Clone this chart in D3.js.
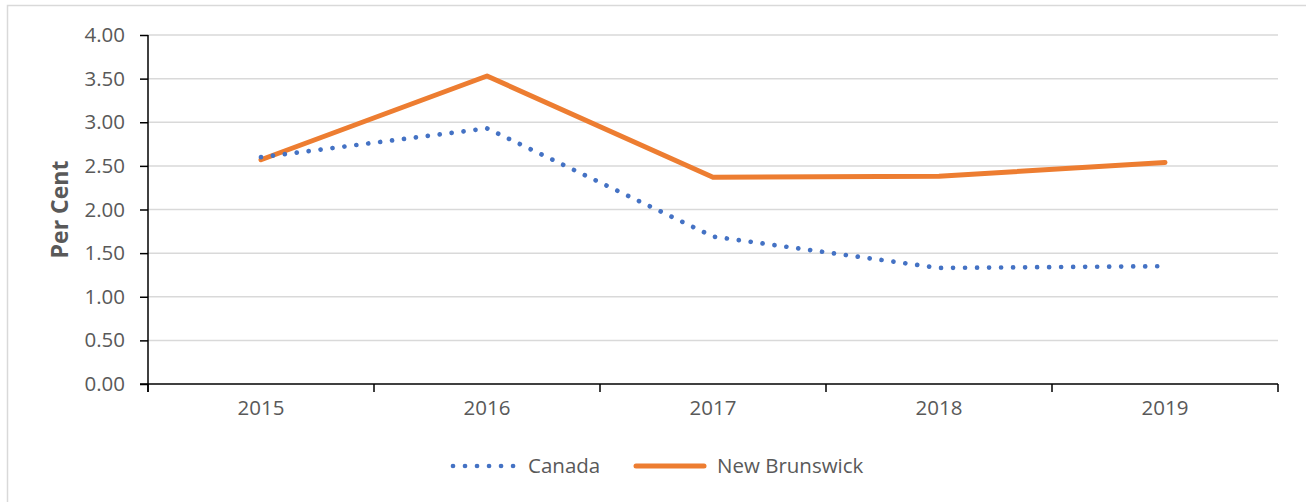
<!DOCTYPE html>
<html>
<head>
<meta charset="utf-8">
<script src="https://cdn.jsdelivr.net/npm/d3@7"></script>
<style>
  html, body { margin: 0; padding: 0; background: #fff; }
  svg { display: block; }
  text { font-family: "Open Sans", "Noto Sans", sans-serif; fill: #595959; }
</style>
</head>
<body>
<svg id="chart" width="1306" height="502"></svg>
<script>
// Annual rates, per cent
const years = ["2015", "2016", "2017", "2018", "2019"];
const canada = [2.60, 2.93, 1.69, 1.33, 1.35];
const newBrunswick = [2.57, 3.53, 2.37, 2.38, 2.54];
const yTicks = [0, 0.5, 1, 1.5, 2, 2.5, 3, 3.5, 4];
const seriesNames = ["Canada", "New Brunswick"];

const svg = d3.select("#chart");
const W = 1306, H = 502;
const m = { left: 148, top: 35, right: 28, bottom: 118 };
const plotW = W - m.left - m.right;
const plotH = H - m.top - m.bottom;
const fs = 20.5;

// Outer chart frame
svg.append("rect")
  .attr("x", 7.5).attr("y", 5.5)
  .attr("width", 1310).attr("height", 510)
  .attr("fill", "#fff").attr("stroke", "#d9d9d9").attr("stroke-width", 1.5);

const x = d3.scaleBand().domain(years).range([m.left, m.left + plotW]);
const y = d3.scaleLinear().domain([0, 4]).range([m.top + plotH, m.top]);

// Horizontal gridlines
svg.append("g").selectAll("line").data(yTicks.filter(d => d > 0)).join("line")
  .attr("x1", m.left).attr("x2", m.left + plotW)
  .attr("y1", d => y(d)).attr("y2", d => y(d))
  .attr("stroke", "#d9d9d9").attr("stroke-width", 1.5);

// Y axis
const yAxis = svg.append("g")
  .attr("transform", `translate(${m.left},0)`)
  .call(d3.axisLeft(y).tickValues(yTicks).tickFormat(d3.format(".2f")).tickSize(8).tickPadding(15));
yAxis.select(".domain").attr("d", `M0,${y(4)}V${y(0) + 8}`).attr("stroke", "#000").attr("stroke-width", 1.5);
yAxis.selectAll(".tick line").attr("stroke", "#000").attr("stroke-width", 1.5);
yAxis.selectAll(".tick text").attr("font-size", fs).style("fill", "#595959");

// X axis with tick marks at category boundaries
const xg = svg.append("g").attr("transform", `translate(0,${y(0)})`);
xg.append("line")
  .attr("x1", m.left - 8).attr("x2", m.left + plotW)
  .attr("stroke", "#000").attr("stroke-width", 1.5);
const bounds = years.map(d => x(d)).concat([m.left + plotW]);
xg.selectAll("line.tk").data(bounds).join("line").attr("class", "tk")
  .attr("x1", d => d).attr("x2", d => d).attr("y1", 0).attr("y2", 8)
  .attr("stroke", "#000").attr("stroke-width", 1.5);
xg.selectAll("text").data(years).join("text")
  .attr("x", d => x(d) + x.bandwidth() / 2).attr("y", 31)
  .attr("text-anchor", "middle").attr("font-size", fs)
  .text(d => d);

// Y axis title
svg.append("text")
  .attr("transform", `translate(68,${y(2)}) rotate(-90)`)
  .attr("text-anchor", "middle").attr("font-size", 23).attr("font-weight", "bold")
  .text("Per Cent");

const cx = (d, i) => x(years[i]) + x.bandwidth() / 2;
const line = d3.line().x(cx).y(d => y(d));

// New Brunswick: solid line
svg.append("path")
  .datum(newBrunswick)
  .attr("d", line)
  .attr("fill", "none").attr("stroke", "#ED7D31").attr("stroke-width", 5)
  .attr("stroke-linecap", "round").attr("stroke-linejoin", "round");

// Canada: round-dot line
svg.append("path")
  .datum(canada)
  .attr("d", line)
  .attr("fill", "none").attr("stroke", "#4472C4").attr("stroke-width", 4.7)
  .attr("stroke-linecap", "round").attr("stroke-dasharray", "0.01 12");

// Legend
const lg = svg.append("g").attr("transform", "translate(0,466)");
lg.append("line").attr("x1", 453).attr("x2", 514)
  .attr("stroke", "#4472C4").attr("stroke-width", 4.7)
  .attr("stroke-linecap", "round").attr("stroke-dasharray", "0.01 12");
lg.append("text").attr("x", 528).attr("y", 7).attr("font-size", fs).text(seriesNames[0]);
lg.append("line").attr("x1", 636).attr("x2", 704)
  .attr("stroke", "#ED7D31").attr("stroke-width", 5).attr("stroke-linecap", "round");
lg.append("text").attr("x", 717).attr("y", 7).attr("font-size", fs).text(seriesNames[1]);
</script>
</body>
</html>
